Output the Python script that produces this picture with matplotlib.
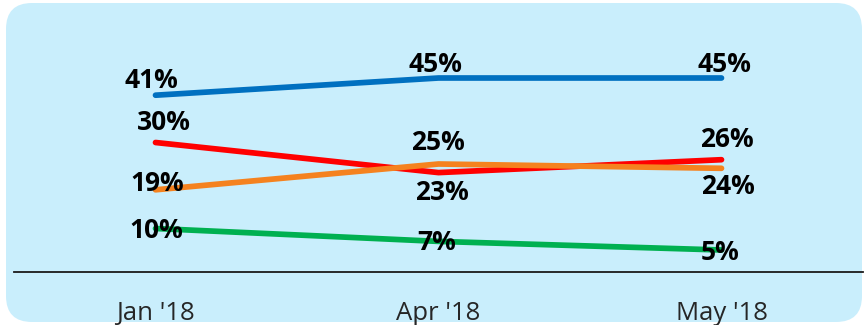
import matplotlib.pyplot as plt
from matplotlib.patches import FancyBboxPatch

months = ["Jan '18", "Apr '18", "May '18"]
blue_vals = [41, 45, 45]
red_vals = [30, 23, 26]
orange_vals = [19, 25, 24]
green_vals = [10, 7, 5]

# label offsets in pixels (dx, dy) for each point
blue_off = [(-4, 15), (-3, 14), (3, 14)]
red_off = [(8, 20), (3, -20), (5, 20)]
orange_off = [(2, 6), (-1, 21), (6, -18)]
green_off = [(1, -2), (-2, -1), (-1, -3)]

plt.rcParams['font.family'] = ['Open Sans', 'DejaVu Sans']

fig = plt.figure(figsize=(8.66, 3.25), dpi=100)

# rounded light blue panel behind the chart
panel = FancyBboxPatch((6 / 866, 3 / 325), 856 / 866, 319 / 325,
                       boxstyle='round,pad=0,rounding_size=0.03',
                       transform=fig.transFigure, facecolor='#C9EEFC',
                       edgecolor='none', zorder=-1,
                       mutation_aspect=866 / 325)
fig.patches.append(panel)

ax = fig.add_axes([14 / 866, 53.5 / 325, 849 / 866, 215 / 325])
ax.patch.set_visible(False)

x = range(len(months))
series = [
    (blue_vals, '#0070C0', blue_off),
    (red_vals, '#FF0000', red_off),
    (orange_vals, '#F5821F', orange_off),
    (green_vals, '#00B050', green_off),
]
for vals, color, offs in series:
    ax.plot(x, vals, color=color, linewidth=4.1, solid_capstyle='round')
    for xi, v, (dx, dy) in zip(x, vals, offs):
        ax.annotate(f'{v}%', (xi, v), xytext=(dx, dy), textcoords='offset pixels',
                    ha='center', va='center', fontsize=19, fontweight='bold',
                    color='black', zorder=5)

ax.set_xlim(-0.5, 2.5)
ax.set_ylim(0, 50)
ax.set_xticks(list(x))
ax.set_xticklabels(months, fontsize=18.5, color='#262626')
ax.tick_params(axis='x', length=0, pad=21)
ax.set_yticks([])
for side in ['top', 'left', 'right']:
    ax.spines[side].set_visible(False)
ax.spines['bottom'].set_color('#1a1a1a')
ax.spines['bottom'].set_linewidth(1.3)

fig.savefig('out.png', dpi=100)
